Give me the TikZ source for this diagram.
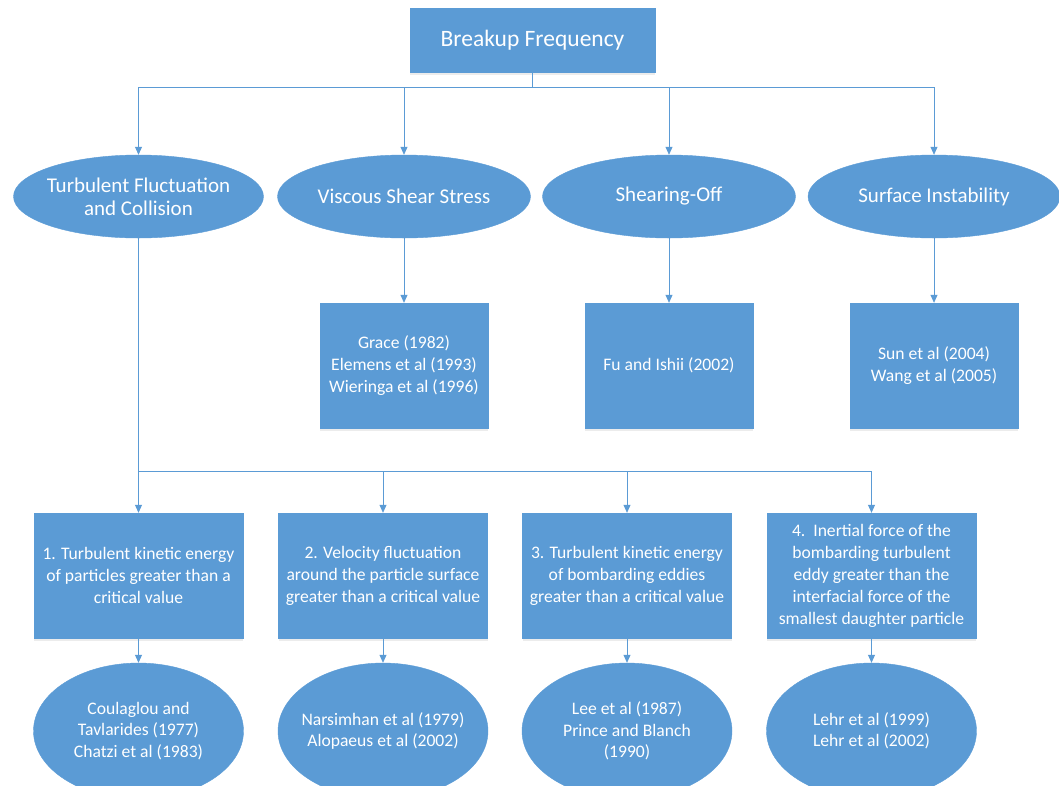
\documentclass[tikz,border=0pt]{standalone}
\usepackage{fontspec}
\setmainfont{Carlito}
\usetikzlibrary{arrows.meta,shapes.geometric,shadows}
\definecolor{boxblue}{RGB}{91,155,213}

\begin{document}
\begin{tikzpicture}[x=1pt,y=1pt,yscale=-1,
  blk/.style={draw=boxblue,fill=boxblue,text=white,align=center,inner sep=0pt,font=\fontsize{17.6}{22}\selectfont,
    drop shadow={shadow xshift=0pt,shadow yshift=-3pt,opacity=0.12,fill=black!60}},
  oval/.style={ellipse,draw=boxblue,fill=boxblue,text=white,align=center,inner sep=-12pt,font=\fontsize{17.6}{21.5}\selectfont},
  link/.style={draw=boxblue,line width=0.8pt},
  arr/.style={link,-{Triangle[width=7pt,length=8pt]}}]
%set diagram size to the reference
\clip (0,0) rectangle (1059,785);

%Shape: Rectangle
\node [blk,minimum width=245,minimum height=64,font=\fontsize{23.5}{26}\selectfont] (freq) at (532.5,40) {Breakup Frequency};

%Shape: Ellipse
\node [oval,minimum width=250,minimum height=83,font=\fontsize{21}{23}\selectfont] (turb) at (138.5,196.5) {Turbulent Fluctuation\\and Collision};
\node [oval,minimum width=253,minimum height=83,font=\fontsize{21}{23}\selectfont] (visc) at (404,196.5) {Viscous Shear Stress};
\node [oval,minimum width=253,minimum height=83,font=\fontsize{21}{23}\selectfont] (shear) at (669,196.5) {Shearing-Off};
\node [oval,minimum width=252,minimum height=83,font=\fontsize{21}{23}\selectfont] (surf) at (934,196.5) {Surface Instability};

%Shape: Rectangle
\node [blk,minimum width=168,minimum height=125] (viscref) at (404,365.5) {Grace (1982)\\Elemens et al (1993)\\Wieringa et al (1996)};
\node [blk,minimum width=168,minimum height=125] (shearref) at (669,365.5) {Fu and Ishii (2002)};
\node [blk,minimum width=168,minimum height=125] (surfref) at (934,365.5) {Sun et al (2004)\\Wang et al (2005)};

%Shape: Rectangle
\node [blk,minimum width=209,minimum height=125] (crit1) at (138.5,575.5) {1. Turbulent kinetic energy\\of particles greater than a\\critical value};
\node [blk,minimum width=209,minimum height=125] (crit2) at (383,575.5) {2. Velocity fluctuation\\around the particle surface\\greater than a critical value};
\node [blk,minimum width=209,minimum height=125] (crit3) at (627,575.5) {3. Turbulent kinetic energy\\of bombarding eddies\\greater than a critical value};
\node [blk,minimum width=209,minimum height=125] (crit4) at (871.5,575.5) {4.\ \ Inertial force of the\\bombarding turbulent\\eddy greater than the\\interfacial force of the\\smallest daughter particle};

%Shape: Ellipse
\node [oval,minimum width=210,minimum height=136] (ref1) at (138.5,731) {Coulaglou and\\Tavlarides (1977)\\Chatzi et al (1983)};
\node [oval,minimum width=210,minimum height=136] (ref2) at (383,731) {Narsimhan et al (1979)\\Alopaeus et al (2002)};
\node [oval,minimum width=210,minimum height=136] (ref3) at (627,731) {Lee et al (1987)\\Prince and Blanch\\(1990)};
\node [oval,minimum width=210,minimum height=136] (ref4) at (871.5,731) {Lehr et al (1999)\\Lehr et al (2002)};

%Straight Lines
\coordinate (bus) at (532.5,87);
\draw [link] (freq.south) -- (bus);
\draw [arr] (bus) -| (turb.north);
\draw [arr] (bus) -| (visc.north);
\draw [arr] (bus) -| (shear.north);
\draw [arr] (bus) -| (surf.north);

%Straight Lines
\draw [arr] (visc.south) -- (viscref.north);
\draw [arr] (shear.south) -- (shearref.north);
\draw [arr] (surf.south) -- (surfref.north);

%Straight Lines
\coordinate (bus2) at (138.5,471);
\draw [link] (turb.south) -- (bus2);
\draw [arr] (bus2) -| (crit1.north);
\draw [arr] (bus2) -| (crit2.north);
\draw [arr] (bus2) -| (crit3.north);
\draw [arr] (bus2) -| (crit4.north);

%Straight Lines
\draw [arr] (crit1.south) -- (ref1.north);
\draw [arr] (crit2.south) -- (ref2.north);
\draw [arr] (crit3.south) -- (ref3.north);
\draw [arr] (crit4.south) -- (ref4.north);

\end{tikzpicture}
\end{document}
